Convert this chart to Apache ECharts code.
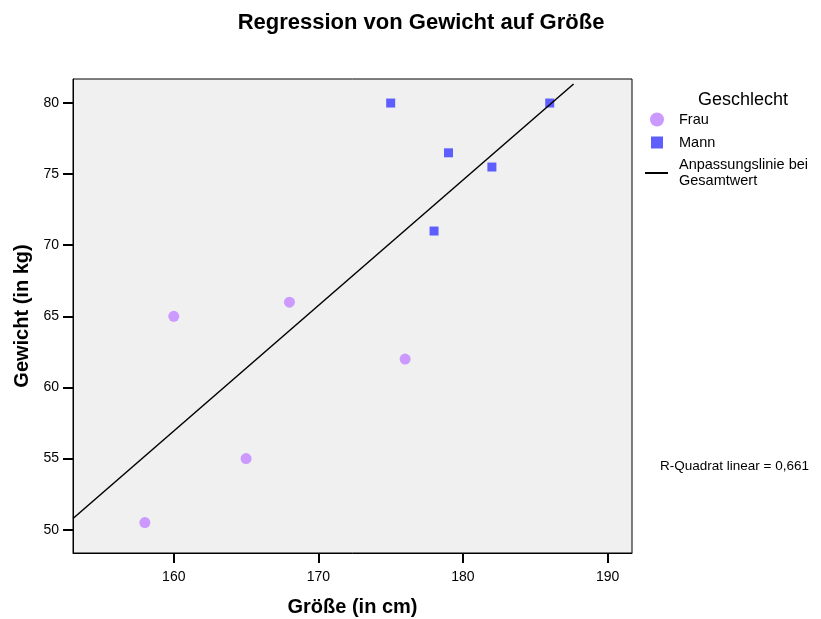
<!DOCTYPE html>
<html>
<head>
<meta charset="utf-8">
<title>Regression von Gewicht auf Größe</title>
<script src="https://cdn.jsdelivr.net/npm/echarts@6/dist/echarts.min.js"></script>
<style>
  html, body { margin: 0; padding: 0; background: #fff; }
  #chart { width: 821px; height: 619px; }
</style>
</head>
<body>
<div id="chart"></div>
<script>
// Werte
const frauGroesse = [158, 160, 165, 168, 176]
const frauGewicht = [50.5, 65, 55, 66, 62]
const mannGroesse = [175, 178, 179, 182, 186]
const mannGewicht = [80, 71, 76.5, 75.5, 80]
// Endpunkte der Anpassungslinie (Gesamtwert)
const linieGroesse = [153.03, 187.65]
const linieGewicht = [50.79, 81.34]
const xTicks = [160, 170, 180, 190]
const yTicks = [50, 55, 60, 65, 70, 75, 80]
const rQuadrat = '0,661'

const font = '"Liberation Sans", Arial, sans-serif'
const zip = (a, b) => a.map((v, i) => [v, b[i]])

const chart = echarts.init(document.getElementById('chart'))

chart.setOption({
  animation: false,
  textStyle: { fontFamily: font, color: '#000' },
  title: [
    {
      text: 'Regression von Gewicht auf Größe',
      left: 416,
      top: 7,
      textAlign: 'center',
      textStyle: { fontFamily: font, fontSize: 22, fontWeight: 'bold', color: '#000' }
    },
    {
      text: 'Geschlecht',
      left: 738,
      top: 86,
      textAlign: 'center',
      textStyle: { fontFamily: font, fontSize: 18, fontWeight: 'normal', color: '#000' }
    },
    {
      text: 'R-Quadrat linear = ' + rQuadrat,
      left: 655,
      top: 454,
      textStyle: { fontFamily: font, fontSize: 13.5, fontWeight: 'normal', color: '#000' }
    }
  ],
  grid: {
    left: 73,
    right: 189,
    top: 79,
    bottom: 66,
    outerBoundsMode: 'none',
    show: true,
    backgroundColor: '#f0f0f0',
    borderColor: '#000',
    borderWidth: 1
  },
  legend: [
    {
      data: [{ name: 'Frau', icon: 'circle' }],
      left: 645,
      top: 107,
      itemWidth: 14,
      itemHeight: 14,
      textStyle: { fontFamily: font, fontSize: 14.5, color: '#000', padding: [0, 0, 0, 10] }
    },
    {
      data: [{ name: 'Mann', icon: 'rect' }],
      left: 646,
      top: 130,
      itemWidth: 12,
      itemHeight: 12,
      textStyle: { fontFamily: font, fontSize: 14.5, color: '#000', padding: [0, 0, 0, 11] }
    },
    {
      data: [{ name: 'Anpassungslinie bei Gesamtwert', icon: 'rect' }],
      left: 640,
      top: 152,
      itemWidth: 23,
      itemHeight: 2,
      formatter: () => 'Anpassungslinie bei\nGesamtwert',
      textStyle: { fontFamily: font, fontSize: 14.5, color: '#000', lineHeight: 16, padding: [0, 0, 0, 6] }
    }
  ],
  xAxis: {
    type: 'value',
    min: 153.03,
    max: 191.69,
    name: 'Größe (in cm)',
    nameLocation: 'middle',
    nameGap: 44,
    nameTextStyle: { fontFamily: font, fontSize: 20, fontWeight: 'bold', color: '#000' },
    axisLine: { show: true, onZero: false, lineStyle: { color: '#000', width: 1 } },
    axisTick: { show: true, length: 10, customValues: xTicks, lineStyle: { color: '#000', width: 2 } },
    axisLabel: { customValues: xTicks, margin: 17, fontSize: 14, color: '#000', fontFamily: font },
    splitLine: { show: false }
  },
  yAxis: {
    type: 'value',
    min: 48.36,
    max: 81.69,
    name: 'Gewicht (in kg)',
    nameLocation: 'middle',
    nameGap: 36,
    nameTextStyle: { fontFamily: font, fontSize: 20, fontWeight: 'bold', color: '#000' },
    axisLine: { show: true, onZero: false, lineStyle: { color: '#000', width: 1 } },
    axisTick: { show: true, length: 10, customValues: yTicks, lineStyle: { color: '#000', width: 2 } },
    axisLabel: { customValues: yTicks, margin: 14, fontSize: 14, color: '#000', fontFamily: font },
    splitLine: { show: false }
  },
  series: [
    {
      name: 'Frau',
      type: 'scatter',
      symbol: 'circle',
      symbolSize: 11,
      itemStyle: { color: '#cc99ff', opacity: 1 },
      data: zip(frauGroesse, frauGewicht)
    },
    {
      name: 'Mann',
      type: 'scatter',
      symbol: 'rect',
      symbolSize: 9,
      itemStyle: { color: '#5e5eff', opacity: 1 },
      data: zip(mannGroesse, mannGewicht)
    },
    {
      name: 'Anpassungslinie bei Gesamtwert',
      type: 'line',
      symbol: 'none',
      lineStyle: { color: '#000', width: 1.5 },
      itemStyle: { color: '#000' },
      data: zip(linieGroesse, linieGewicht)
    }
  ]
})
</script>
</body>
</html>
